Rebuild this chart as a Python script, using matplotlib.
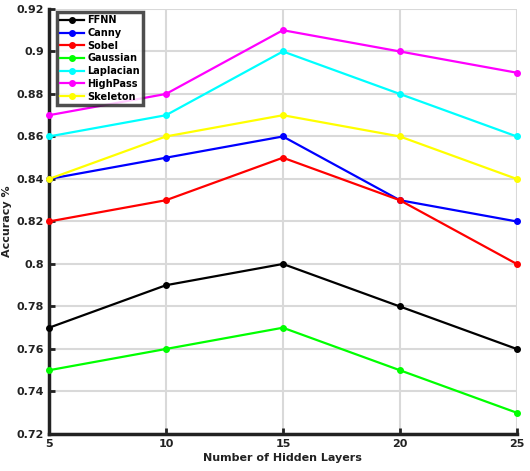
import matplotlib
matplotlib.use("Agg")
import matplotlib.pyplot as plt

x = [5, 10, 15, 20, 25]
series_names = ["FFNN", "Canny", "Sobel", "Gaussian", "Laplacian", "HighPass", "Skeleton"]
ffnn = [0.77, 0.79, 0.80, 0.78, 0.76]
canny = [0.84, 0.85, 0.86, 0.83, 0.82]
sobel = [0.82, 0.83, 0.85, 0.83, 0.80]
gaussian = [0.75, 0.76, 0.77, 0.75, 0.73]
laplacian = [0.86, 0.87, 0.90, 0.88, 0.86]
highpass = [0.87, 0.88, 0.91, 0.90, 0.89]
skeleton = [0.84, 0.86, 0.87, 0.86, 0.84]
colors = ["#000000", "#0000ff", "#ff0000", "#00ff00", "#00ffff", "#ff00ff", "#ffff00"]
yticks = [0.72, 0.74, 0.76, 0.78, 0.8, 0.82, 0.84, 0.86, 0.88, 0.9, 0.92]
ytick_labels = ["0.72", "0.74", "0.76", "0.78", "0.8", "0.82", "0.84", "0.86", "0.88", "0.9", "0.92"]

plt.rcParams['font.family'] = ['DejaVu Sans']
plt.rcParams['font.weight'] = 'bold'

fig = plt.figure(figsize=(5.3, 4.71), dpi=100)
ax = fig.add_axes([0.0925, 0.0786, 0.8825, 0.9024])

data = [ffnn, canny, sobel, gaussian, laplacian, highpass, skeleton]
for name, vals, c in zip(series_names, data, colors):
    ax.plot(x, vals, color=c, lw=1.6, marker='o', ms=4, label=name, clip_on=False, zorder=3)

ax.set_xlim(5, 25)
ax.set_ylim(0.72, 0.92)
ax.set_xticks(x)
ax.set_yticks(yticks)
ax.set_yticklabels(ytick_labels)
ax.grid(True, color='#d9d9d9', lw=1.5)
ax.set_axisbelow(True)
for s in ['top', 'right']:
    ax.spines[s].set_visible(False)
for s in ['left', 'bottom']:
    ax.spines[s].set_linewidth(2.5)
    ax.spines[s].set_color('#222222')
ax.tick_params(direction='in', length=4, width=2, labelsize=8, colors='#222222')
for lab in ax.get_xticklabels() + ax.get_yticklabels():
    lab.set_fontweight('bold')
ax.set_xlabel("Number of Hidden Layers", fontsize=8, fontweight='bold', color='#222222', labelpad=3)
ax.set_ylabel("Accuracy %", fontsize=8, fontweight='bold', color='#222222', labelpad=3)

leg = ax.legend(loc='upper left', bbox_to_anchor=(0.018, 0.992), fontsize=7, frameon=True,
                fancybox=False, borderpad=0.3, labelspacing=0.28, handlelength=2.4,
                handletextpad=0.35, borderaxespad=0.0)
leg.get_frame().set_edgecolor('#222222')
leg.get_frame().set_linewidth(2.5)
for t in leg.get_texts():
    t.set_fontweight('bold')

fig.savefig("out.png", dpi=100)
